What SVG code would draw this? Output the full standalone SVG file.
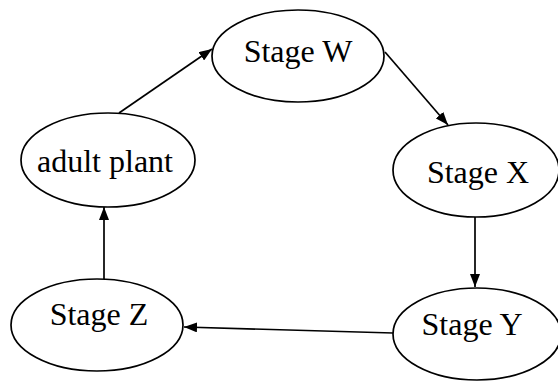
<svg xmlns="http://www.w3.org/2000/svg" width="558" height="381" viewBox="0 0 558 381">
<style>
.n ellipse{fill:#fff;stroke:#000;stroke-width:1.7}
.n text{font-family:"Liberation Serif","Times New Roman",serif;font-size:32px;fill:#000;text-anchor:middle}
.c line{stroke:#000;stroke-width:1.7;marker-end:url(#ah)}
</style>
<defs>
<marker id="ah" viewBox="0 0 13 10" refX="13" refY="5" markerWidth="13" markerHeight="10" markerUnits="userSpaceOnUse" orient="auto">
<path d="M0,0 L13,5 L0,10 z" fill="#000"/>
</marker>
</defs>
<rect width="558" height="381" fill="#fff"/>
<g id="connectors" class="c">
<line x1="119" y1="113" x2="212" y2="49"/>
<line x1="385" y1="52" x2="448" y2="125"/>
<line x1="475" y1="217" x2="475" y2="287"/>
<line x1="393" y1="333" x2="184" y2="327"/>
<line x1="104" y1="280" x2="104" y2="207"/>
</g>
<g id="stageW" class="n"><ellipse cx="298" cy="56" rx="86" ry="46"/><text x="298" y="62">Stage W</text></g>
<g id="adultPlant" class="n"><ellipse cx="108" cy="160" rx="87" ry="47"/><text x="105" y="172">adult plant</text></g>
<g id="stageX" class="n"><ellipse cx="476" cy="170" rx="83" ry="47"/><text x="478" y="183">Stage X</text></g>
<g id="stageY" class="n"><ellipse cx="477" cy="334" rx="84" ry="46"/><text x="472" y="335">Stage Y</text></g>
<g id="stageZ" class="n"><ellipse cx="97" cy="325" rx="86" ry="46"/><text x="99" y="325">Stage Z</text></g>
</svg>
